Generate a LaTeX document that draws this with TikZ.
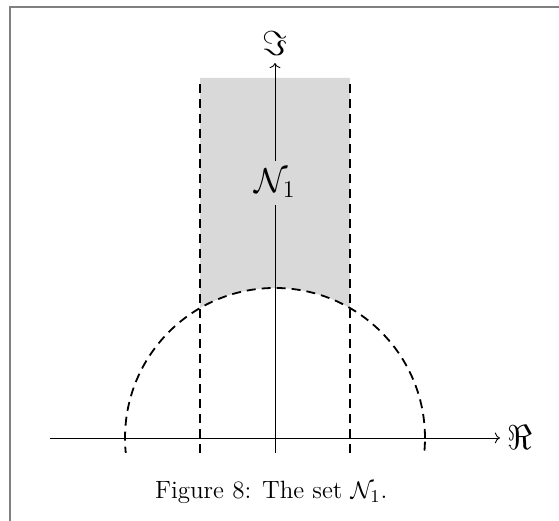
\documentclass[tikz,border=0pt]{standalone}
\usepackage{amsmath,amssymb}
\usepackage{xcolor}
\usepackage{tikz}
\usetikzlibrary{arrows.meta}

\begin{document}
\begin{tikzpicture}[
  x=37.5pt, y=37.5pt,
  axis/.style={->, line width=0.45pt},
  bound/.style={dash pattern=on 4.5pt off 3pt, line width=0.9pt},
  region/.style={fill=gray!30},
  frame/.style={draw=gray, line width=1pt}
]
  \useasboundingbox (-3.667,-1.107) rectangle (3.787,5.84);
  \draw[frame] (-3.54,-1.107) -- (-3.54,5.74) -- (3.787,5.74);

  % the set N_1
  \fill[region] (-1,4.8) -- (-1,{sqrt(3)}) arc[start angle=120, end angle=60, radius=2] -- (1,4.8) -- cycle;

  % axes
  \draw[axis] (-3,0) -- (3,0) node[right, font=\LARGE] (re) {$\Re$};
  \draw[axis] (0,-0.2) -- (0,5) node[above, font=\LARGE] (im) {$\Im$};
  \node[region, inner sep=4pt, font=\LARGE] (nset) at (0,3.4) {$\mathcal{N}_1$};

  % boundaries
  \draw[bound] (-1,-0.2) -- (-1,4.8);
  \draw[bound] (1,-0.2) -- (1,4.8);
  \begin{scope}
    \clip (-3,-0.2) rectangle (3,5);
    \draw[bound] (0,0) circle[radius=2];
  \end{scope}

  \node[font=\fontsize{12.5}{15}\selectfont] (caption) at (-0.05,-0.73) {Figure 8: The set $\mathcal{N}_1$.};
\end{tikzpicture}
\end{document}
